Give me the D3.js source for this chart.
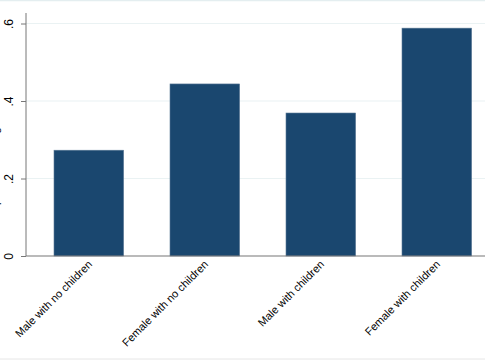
<!DOCTYPE html>
<html>
<head>
<meta charset="utf-8">
<script src="https://cdn.jsdelivr.net/npm/d3@7"></script>
<style>
  html, body { margin: 0; padding: 0; background: #fff; }
  svg { display: block; }
  text { font-family: "Liberation Sans", Arial, Helvetica, sans-serif; fill: #000; }
</style>
</head>
<body>
<svg id="chart" width="485" height="360"></svg>
<script>
const categories = ["Male with no children", "Female with no children", "Male with children", "Female with children"];
const values = [0.273, 0.444, 0.369, 0.588];
const yTicks = [0, 0.2, 0.4, 0.6];
const yTickLabels = ["0", ".2", ".4", ".6"];
const yTitle = "Proportion working";

const W = 485, H = 360;
const svg = d3.select("#chart");

// outer region borders
svg.append("line").attr("x1", 0).attr("x2", W).attr("y1", 0.5).attr("y2", 0.5)
  .attr("stroke", "#e4eef0").attr("stroke-width", 1.5);
svg.append("line").attr("x1", 0).attr("x2", W).attr("y1", 359).attr("y2", 359)
  .attr("stroke", "#e6e6e6").attr("stroke-width", 1);

const x = d3.scaleBand().domain(categories).range([30.8, 494.8]).paddingInner(0.4).paddingOuter(0.2);
const y = d3.scaleLinear().domain([0, 0.6]).range([256, 23.5]);

const axisX = 26, plotRight = 485;

// gridlines
svg.append("g").selectAll("line").data(yTicks.filter(d => d > 0)).join("line")
  .attr("x1", axisX).attr("x2", plotRight)
  .attr("y1", d => y(d)).attr("y2", d => y(d))
  .attr("stroke", "#eaf2f3").attr("stroke-width", 1.2);

// bars
svg.append("g").selectAll("rect").data(values).join("rect")
  .attr("x", (d, i) => x(categories[i]))
  .attr("width", x.bandwidth())
  .attr("y", d => y(d))
  .attr("height", d => y(0) - y(d))
  .attr("fill", "#1a476f")
  .attr("stroke", "#5b7a96").attr("stroke-width", 0.6);

// y axis
const yAxis = d3.axisLeft(y).tickValues(yTicks).tickFormat((d, i) => yTickLabels[i]).tickSize(5).tickPadding(4);
const gy = svg.append("g").attr("transform", `translate(${axisX},0)`).call(yAxis);
gy.select(".domain").attr("d", `M0,13V256`).attr("stroke", "#777").attr("stroke-width", 1);
gy.selectAll(".tick line").attr("stroke", "#777");
gy.selectAll(".tick text")
  .attr("font-size", "12px")
  .attr("font-family", "Liberation Sans, Arial, sans-serif")
  .attr("fill", "#000")
  .attr("transform", "rotate(-90)")
  .attr("x", 0).attr("y", -13)
  .attr("dy", "0")
  .attr("text-anchor", "middle");

// x axis
const xAxis = d3.axisBottom(x).tickSize(0).tickPadding(0);
const gx = svg.append("g").attr("transform", `translate(0,256)`).call(xAxis);
gx.select(".domain").attr("d", `M${axisX},0H${plotRight}`).attr("stroke", "#777").attr("stroke-width", 1.2);
gx.selectAll(".tick text")
  .attr("font-size", "11px")
  .attr("font-family", "Liberation Sans, Arial, sans-serif")
  .attr("fill", "#000")
  .attr("text-anchor", "end")
  .attr("dy", "0")
  .attr("y", 0)
  .attr("transform", "translate(4,9) rotate(-45)");

// y title (cut off at the left edge as in the reference)
svg.append("text")
  .attr("transform", "translate(-0.8,223) rotate(-90)")
  .attr("text-anchor", "start")
  .attr("font-size", "11.5px")
  .text(yTitle);
</script>
</body>
</html>
